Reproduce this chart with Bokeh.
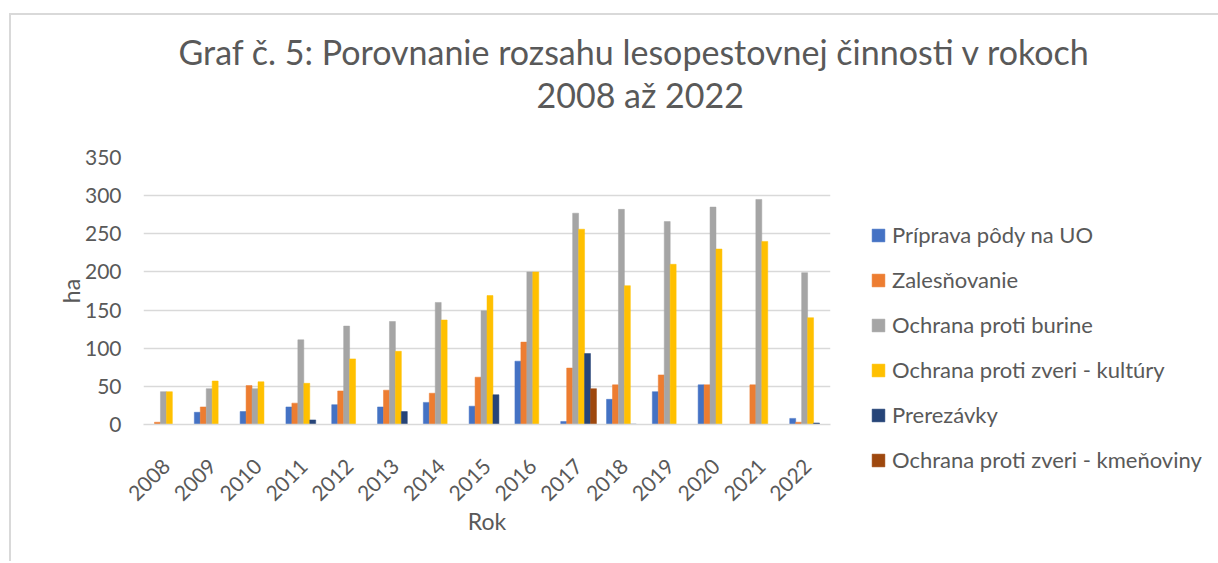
import math
from bokeh.plotting import figure
from bokeh.models import (FactorRange, Range1d, FixedTicker, ColumnDataSource,
                          Legend, LegendItem, Title)
from bokeh.transform import dodge
from bokeh.embed import file_html
from bokeh.resources import INLINE

years = ["2008", "2009", "2010", "2011", "2012", "2013", "2014", "2015",
         "2016", "2017", "2018", "2019", "2020", "2021", "2022"]
priprava = [0, 16, 17, 23, 26, 23, 29, 24, 83, 4, 33, 43, 52, 0, 8]
zalesnovanie = [3, 23, 51, 28, 44, 45, 41, 62, 108, 74, 52, 65, 52, 52, 3]
burina = [43, 47, 47, 111, 129, 135, 160, 149, 200, 277, 282, 266, 285, 295, 199]
zver_kultury = [43, 57, 56, 54, 86, 96, 137, 169, 200, 256, 182, 210, 230, 240, 140]
prerezavky = [0, 0, 0, 6, 0, 17, 0, 39, 0, 93, 0.5, 0, 0, 0, 2]
zver_kmenoviny = [0, 0, 0, 0, 0, 0, 0, 0, 0, 47, 0, 0, 0, 0, 0]

series_names = ["Príprava pôdy na UO", "Zalesňovanie", "Ochrana proti burine",
                "Ochrana proti zveri - kultúry", "Prerezávky",
                "Ochrana proti zveri - kmeňoviny"]
series_keys = ["priprava", "zalesnovanie", "burina", "zver_kultury",
               "prerezavky", "zver_kmenoviny"]
colors = ["#4472C4", "#ED7D31", "#A5A5A5", "#FFC000", "#264478", "#9E480E"]
y_ticks = [0, 50, 100, 150, 200, 250, 300, 350]

title_line1 = "Graf č. 5: Porovnanie rozsahu lesopestovnej činnosti v rokoch"
title_line2 = "2008 až 2022"

source = ColumnDataSource(dict(
    years=years, priprava=priprava, zalesnovanie=zalesnovanie, burina=burina,
    zver_kultury=zver_kultury, prerezavky=prerezavky, zver_kmenoviny=zver_kmenoviny))

FONT = "Lato"
TXT = "#595959"

p = figure(x_range=FactorRange(*years), y_range=Range1d(0, 350),
           frame_width=687, frame_height=267,
           output_backend="svg", toolbar_location=None,
           min_border_left=132, min_border_right=0, min_border_top=142,
           min_border_bottom=137)
p.styles = {"margin-left": "9px", "margin-top": "13px",
            "border-left": "2px solid #D9D9D9", "border-top": "2px solid #D9D9D9"}
p.outline_line_color = None

bw = 0.13
renderers = []
for i, (k, c) in enumerate(zip(series_keys, colors)):
    r = p.vbar(x=dodge("years", (i - 2.5) * bw, range=p.x_range), top=k, width=bw,
               source=source, fill_color=c, line_color=c, line_width=0.5)
    renderers.append(r)

p.xgrid.grid_line_color = None
p.ygrid.grid_line_color = "#D9D9D9"
p.ygrid.grid_line_width = 1.3
p.yaxis.ticker = FixedTicker(ticks=y_ticks)

for ax in (p.xaxis[0], p.yaxis[0]):
    ax.major_tick_line_color = None
    ax.minor_tick_line_color = None
    ax.major_label_text_font = FONT
    ax.major_label_text_font_size = "21px"
    ax.major_label_text_color = TXT
    ax.axis_label_text_font = FONT
    ax.axis_label_text_font_size = "23px"
    ax.axis_label_text_color = TXT
    ax.axis_label_text_font_style = "normal"

p.yaxis.axis_line_color = None
p.yaxis.major_label_standoff = 16
p.yaxis.axis_label = "ha"
p.yaxis.axis_label_standoff = -3

p.xaxis.axis_line_color = "#D9D9D9"
p.xaxis.axis_line_width = 1.3
p.xaxis.major_label_orientation = math.pi / 4
p.xaxis.major_label_standoff = 32
p.xaxis.axis_label = "Rok"
p.xaxis.axis_label_standoff = -4

lg = Legend(items=[LegendItem(label=n, renderers=[r])
                   for n, r in zip(series_names, renderers)],
            location=(40, -49))
lg.label_text_font = FONT
lg.label_text_font_size = "22px"
lg.label_text_color = TXT
lg.glyph_width = 16
lg.glyph_height = 16
lg.label_standoff = 6
lg.label_height = 25
lg.spacing = 18
lg.padding = 0
lg.margin = 0
lg.border_line_color = None
lg.background_fill_alpha = 0
p.add_layout(lg, "right")

# title line 1 (outermost)
p.title.text = title_line1
p.title.align = "left"
p.title.offset = 35
p.title.text_font = FONT
p.title.text_font_size = "34px"
p.title.text_color = TXT
p.title.text_font_style = "normal"
p.title.standoff = 0

# spacer between frame and the title lines
spacer = Title(text=" ", text_font_size="1px", standoff=40)
p.add_layout(spacer, "above")

t2 = Title(text=title_line2, align="left", offset=393, text_font=FONT,
           text_font_size="34px", text_color=TXT, text_font_style="normal",
           standoff=0)
p.add_layout(t2, "above")

open("out.html", "w").write(file_html(p, INLINE))
